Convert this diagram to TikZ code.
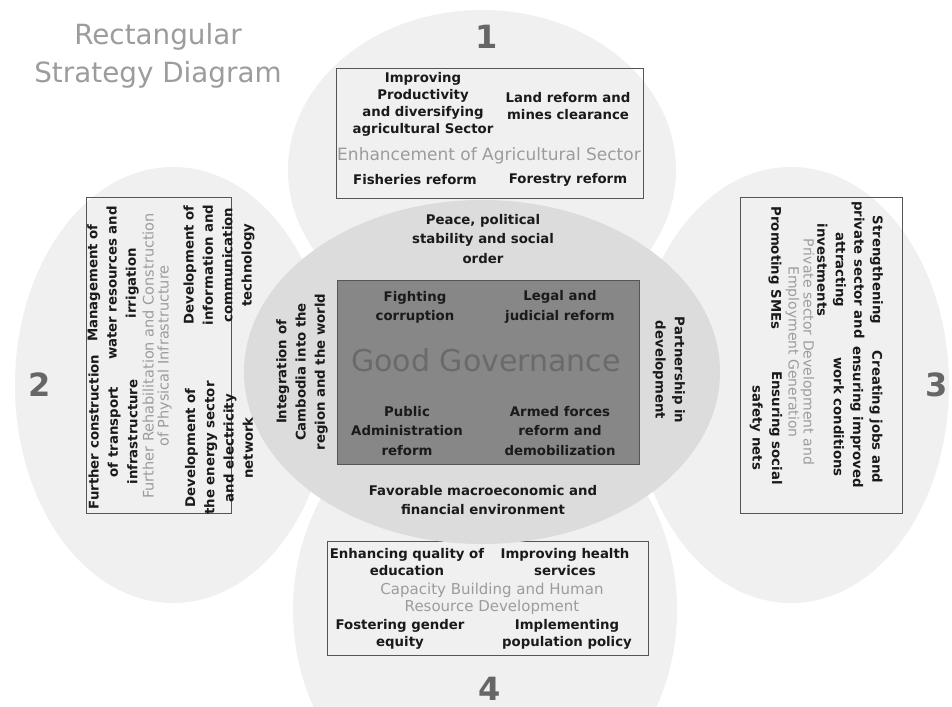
\documentclass[tikz,border=0pt]{standalone}
\usepackage{fontspec}
\setmainfont{DejaVu Sans}
\definecolor{disc}{HTML}{F0F0F0}
\definecolor{core}{HTML}{DCDCDC}
\definecolor{gov}{HTML}{878787}
\definecolor{govtext}{HTML}{6A6A6A}
\definecolor{frame}{HTML}{555555}
\definecolor{itemtext}{HTML}{1A1A1A}
\definecolor{grouptext}{HTML}{9C9C9C}
\definecolor{numtext}{HTML}{666666}
\tikzset{
  blob/.style={fill=disc},
  pillar/.style={draw=frame, line width=.8pt, inner sep=0pt},
  item/.style={align=center, text=itemtext, inner sep=0pt, font=\bfseries\fontsize{13.3}{17}\selectfont},
  loose/.style={item, font=\bfseries\fontsize{13.3}{19.3}\selectfont},
  grp/.style={align=center, text=grouptext, inner sep=0pt, font=\fontsize{14.5}{15}\selectfont},
  num/.style={text=numtext, inner sep=0pt, font=\bfseries\fontsize{32}{34}\selectfont}
}
\begin{document}
\begin{tikzpicture}[x=1pt,y=-1pt]
\useasboundingbox[fill=white] (0,0) rectangle (952,706);
% four pillars round the core
\foreach \cx/\cy/\rx/\ry in {482/170/194/160, 173/385/158/218, 791/385/158/218, 485/610/192/215}
  \fill[blob] (\cx,\cy) ellipse [x radius=\rx, y radius=\ry];
\node[pillar, minimum width=307, minimum height=130] (agri) at (489.5,133) {};
\node[pillar, minimum width=145, minimum height=316] (infra) at (158.5,355) {};
\node[pillar, minimum width=162, minimum height=316] (priv) at (821,355) {};
\node[pillar, minimum width=321, minimum height=114] (capa) at (487.5,598) {};
% core ellipse and governance rectangle
\fill[core] (482,372) ellipse [x radius=238, y radius=172];
\node[draw=frame, fill=gov, line width=.8pt, minimum width=302, minimum height=184] (govbox) at (488,372) {};

\node[text=grouptext, align=center, font=\fontsize{27.8}{38}\selectfont] (title) at (158,56) {Rectangular\\Strategy Diagram};
\node[num] (n1) at (487,37) {1};
\node[num] (n2) at (40,385) {2};
\node[num] (n3) at (937,385) {3};
\node[num, anchor=base] (n4) at (490,700) {4};

%1 agriculture
\node[item] (prod) at (423,104) {Improving\\Productivity\\and diversifying\\agricultural Sector};
\node[item] (land) at (568,106) {Land reform and\\mines clearance};
\node[grp, font=\fontsize{17}{18}\selectfont] (agrititle) at (489,156) {Enhancement of Agricultural Sector};
\node[item] (fish) at (415,180) {Fisheries reform};
\node[item] (forest) at (568,180) {Forestry reform};

%2 infrastructure
\node[loose, rotate=90] (transp) at (113,432) {Further construction\\of transport\\infrastructure};
\node[loose, rotate=90] (water) at (113,283) {Management of\\water resources and\\irrigation};
\node[grp, rotate=90] (infratitle) at (157,356) {Further Rehabilitation and Construction\\of Physical Infrastructure};
\node[loose, rotate=90] (energy) at (219,448) {Development of\\the energy sector\\and electricity\\network};
\node[loose, rotate=90] (ict) at (219,265) {Development of\\information and\\communication\\technology};

%3 private sector
\node[loose, rotate=-90, font=\bfseries\fontsize{13.3}{18.5}\selectfont] (strength) at (850,270) {Strengthening\\private sector and\\attracting\\investments};
\node[loose, rotate=-90] (jobs) at (858,417) {Creating jobs and\\ensuring improved\\work conditions};
\node[grp, rotate=-90, font=\fontsize{14}{15}\selectfont] (privtitle) at (800,352) {Private sector Development and\\Employment Generation};
\node[loose, rotate=-90] (sme) at (775,268) {Promoting SMEs};
\node[loose, rotate=-90] (safety) at (766,428) {Ensuring social\\safety nets};

%4 capacity building
\node[item] (edu) at (407,562) {Enhancing quality of\\education};
\node[item] (health) at (565,562) {Improving health\\services};
\node[grp, font=\fontsize{15}{16.5}\selectfont] (capatitle) at (492,599) {Capacity Building and Human\\Resource Development};
\node[item] (gender) at (400,634) {Fostering gender\\equity};
\node[item] (popul) at (567,634) {Implementing\\population policy};

% core
\node[loose] (peace) at (483,239) {Peace, political\\stability and social\\order};
\node[loose] (macro) at (483,500) {Favorable macroeconomic and\\financial environment};
\node[loose, rotate=90] (integr) at (302,372) {Integration of\\Cambodia into the\\region and the world};
\node[loose, rotate=-90] (partner) at (669,370) {Partnership in\\development};
\node[loose] (corrupt) at (415,307) {Fighting\\corruption};
\node[loose] (legal) at (560,307) {Legal and\\judicial reform};
\node[text=govtext, inner sep=0pt, font=\fontsize{30}{32}\selectfont] (goodgov) at (486,360) {Good Governance};
\node[loose] (public) at (407,431) {Public\\Administration\\reform};
\node[loose] (armed) at (560,431) {Armed forces\\reform and\\demobilization};
\end{tikzpicture}
\end{document}
